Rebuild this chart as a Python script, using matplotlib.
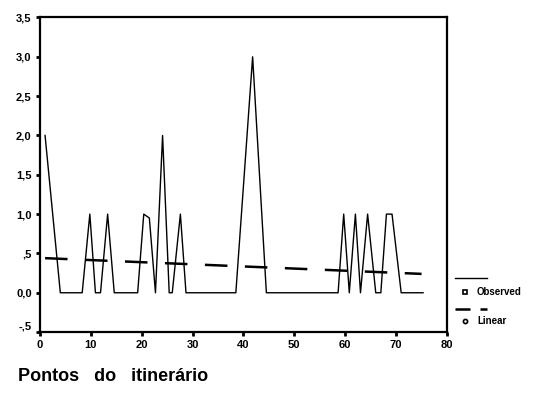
import numpy as np
import matplotlib
matplotlib.use('Agg')
import matplotlib.pyplot as plt
from matplotlib.lines import Line2D
from matplotlib.transforms import ScaledTranslation

plt.rcParams['font.family'] = ['Liberation Sans', 'DejaVu Sans']

# observed series (vertices of the line)
obs_x = [1, 4, 8.3, 9.8, 10.9, 11.9, 13.3, 14.6, 19.2, 20.4, 21.5, 22.7, 24.1, 25.4,
         26, 27.6, 28.7, 38.5, 41.8, 44.5, 58.6, 59.7, 60.8, 62.0, 63.0, 64.4,
         66.0, 67.0, 68.1, 69.2, 71.0, 75.3]
obs_y = [2, 0, 0, 1, 0, 0, 1, 0, 0, 1, 0.95, 0, 2, 0,
         0, 1, 0, 0, 3, 0, 0, 1, 0, 1, 0, 1,
         0, 0, 1, 1, 0, 0]

# linear fit endpoints
lin_x = [1, 75]
lin_y = [0.44, 0.24]

yticks = [-0.5, 0, 0.5, 1.0, 1.5, 2.0, 2.5, 3.0, 3.5]
ytick_labels = ['-,5', '0,0', ',5', '1,0', '1,5', '2,0', '2,5', '3,0', '3,5']
xticks = [0, 10, 20, 30, 40, 50, 60, 70, 80]

fig = plt.figure(figsize=(5.33, 3.93), dpi=100)
ax = fig.add_axes([0.075, 0.155, 0.7636, 0.8005])

ax.plot(obs_x, obs_y, color='black', lw=1.0)
ax.plot(lin_x, lin_y, color='black', lw=1.8, dashes=(9, 7))

ax.set_xlim(0, 80)
ax.set_ylim(-0.5, 3.5)
ax.set_xticks(xticks)
ax.set_xticklabels([str(v) for v in xticks])
ax.set_yticks(yticks)
ax.set_yticklabels(ytick_labels)
ax.tick_params(direction='out', length=3, width=2, labelsize=8, pad=3)
for lab in ax.get_xticklabels() + ax.get_yticklabels():
    lab.set_fontweight('bold')
# SPSS nudges the lowest label up
lab0 = ax.get_yticklabels()[0]
lab0.set_transform(lab0.get_transform() + ScaledTranslation(0, 5 / 72, fig.dpi_scale_trans))

for s in ax.spines.values():
    s.set_linewidth(1.6)

fig.text(0.034, 0.03, 'Pontos   do   itinerário', fontsize=13, fontweight='bold')

# legend drawn at the right like SPSS
fig.add_artist(Line2D([0.854, 0.914], [0.2926, 0.2926], color='black', lw=1.0))
fig.add_artist(Line2D([0.872], [0.2578], marker='s', ms=3, mfc='white', mec='black', mew=1.2))
fig.text(0.895, 0.2578, 'Observed', fontsize=7, fontweight='bold', va='center')
fig.add_artist(Line2D([0.854, 0.914], [0.2137, 0.2137], color='black', lw=1.8, dashes=(6, 4)))
fig.add_artist(Line2D([0.872], [0.1832], marker='o', ms=3, mfc='white', mec='black', mew=1.2))
fig.text(0.895, 0.1832, 'Linear', fontsize=7, fontweight='bold', va='center')

fig.savefig('out.png', dpi=100)
